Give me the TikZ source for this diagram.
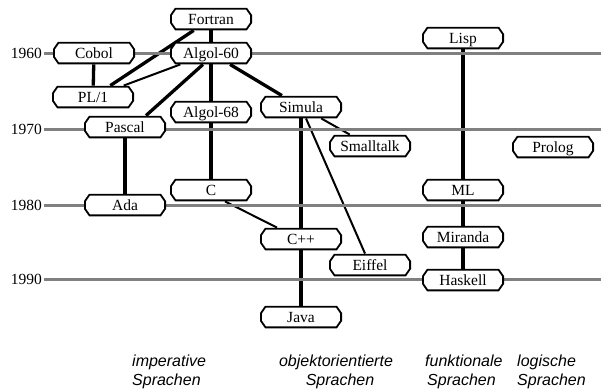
\documentclass[tikz,border=0pt]{standalone}
\usepackage{fontspec}
\setmainfont{Liberation Serif}
\newfontfamily\labelfont{Liberation Sans}
\pgfdeclarelayer{links}
\pgfdeclarelayer{years}
\pgfsetlayers{links,years,main}
\begin{document}
\begin{tikzpicture}[x=1pt,y=-1pt,
  lang/.style={rectangle, minimum width=82pt, minimum height=22.5pt,
    inner sep=0pt, text height=13pt, text depth=2.9pt, font=\fontsize{15.5}{18}\selectfont,
    path picture={
      \filldraw[fill=white, draw=black, line width=1.8pt, line join=miter]
        ([xshift=5.5pt,yshift=-0.9pt]path picture bounding box.north west)
        -- ([xshift=0.9pt,yshift=-7.5pt]path picture bounding box.north west)
        -- ([xshift=0.9pt,yshift=7.5pt]path picture bounding box.south west)
        -- ([xshift=5.5pt,yshift=0.9pt]path picture bounding box.south west)
        -- ([xshift=-5.5pt,yshift=0.9pt]path picture bounding box.south east)
        -- ([xshift=-0.9pt,yshift=7.5pt]path picture bounding box.south east)
        -- ([xshift=-0.9pt,yshift=-7.5pt]path picture bounding box.north east)
        -- ([xshift=-5.5pt,yshift=-0.9pt]path picture bounding box.north east)
        -- cycle;
    }},
  yearline/.style={draw=gray, line width=3pt},
  yearlabel/.style={anchor=east, inner sep=0pt, font=\fontsize{15.5}{18}\selectfont},
  thick link/.style={draw=black, line width=3.3pt},
  thin link/.style={draw=black, line width=2pt},
  cat/.style={inner sep=0pt, font=\labelfont\itshape\fontsize{16}{19}\selectfont}]
\useasboundingbox (0,0) rectangle (601,391);
% languages
\node[lang] (fortran) at (211,19) {Fortran};
\node[lang] (algol60) at (211,53) {Algol-60};
\node[lang] (cobol) at (94,53) {Cobol};
\node[lang] (pl1) at (93,97) {PL/1};
\node[lang] (algol68) at (211,112) {Algol-68};
\node[lang] (simula) at (301,107) {Simula};
\node[lang] (pascal) at (125,127) {Pascal};
\node[lang] (smalltalk) at (370,146) {Smalltalk};
\node[lang] (lisp) at (463,38) {Lisp};
\node[lang] (prolog) at (553,147) {Prolog};
\node[lang] (ml) at (463,190) {ML};
\node[lang] (miranda) at (463,237) {Miranda};
\node[lang] (haskell) at (463,280) {Haskell};
\node[lang] (c) at (211,190) {C};
\node[lang] (ada) at (125,205) {Ada};
\node[lang] (cpp) at (301,239) {C++};
\node[lang] (eiffel) at (370,265) {Eiffel};
\node[lang] (java) at (301,317) {Java};
% year lines
\begin{pgfonlayer}{years}
\foreach \yr/\yy in {1960/53,1970/129,1980/205,1990/279}{
  \coordinate (s\yr) at (44,\yy);
  \coordinate (e\yr) at (601,\yy);
  \node[yearlabel] (l\yr) at (42,\yy) {\yr};
  \draw[yearline] (s\yr) -- (e\yr);
}
\end{pgfonlayer}
% links
\begin{pgfonlayer}{links}
\draw[thick link] (fortran) -- (algol60);
\draw[thick link] (fortran) -- (pl1);
\draw[thin link] (algol60) -- (pl1);
\draw[thick link] ([xshift=-8pt]algol60.south) -- ([xshift=21pt]pascal.north);
\draw[thick link] (algol60) -- (simula);
\draw[thick link] (algol60) -- (algol68);
\draw[thick link] (cobol) -- (pl1);
\draw[thick link] (algol68) -- (c);
\draw[thick link] (pascal) -- (ada);
\draw[thin link] (simula) -- (smalltalk);
\draw[thin link] (simula) -- (eiffel);
\draw[thick link] (simula) -- (cpp);
\draw[thin link] ([xshift=14pt]c.south) -- ([xshift=-24pt]cpp.north);
\draw[thick link] (cpp) -- (java);
\draw[thick link] (lisp) -- (ml);
\draw[thick link] (ml) -- (miranda);
\draw[thick link] (miranda) -- (haskell);
\end{pgfonlayer}
% categories
\node[cat, anchor=base west] (imp1) at (132,366) {imperative};
\node[cat, anchor=base west] (imp2) at (132,385) {Sprachen};
\node[cat, anchor=base] (oo1) at (336,366) {objektorientierte};
\node[cat, anchor=base] (oo2) at (340,385) {Sprachen};
\node[cat, anchor=base west] (fun1) at (425,366) {funktionale};
\node[cat, anchor=base west] (fun2) at (427,385) {Sprachen};
\node[cat, anchor=base west] (log1) at (517,366) {logische};
\node[cat, anchor=base west] (log2) at (517,385) {Sprachen};
\end{tikzpicture}
\end{document}
